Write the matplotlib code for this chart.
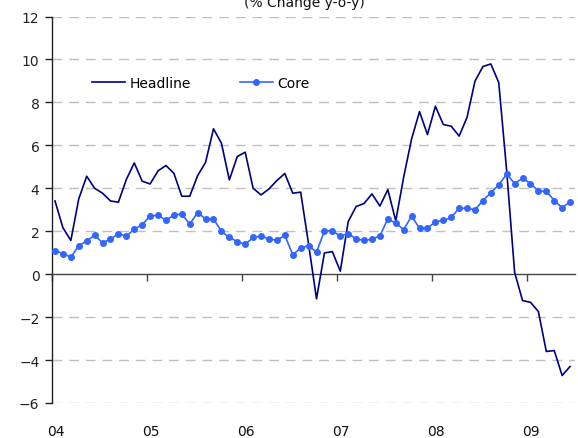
import matplotlib
matplotlib.use("Agg")
import matplotlib.pyplot as plt
import numpy as np

plt.rcParams['font.family'] = ['DejaVu Sans']

years = ["04", "05", "06", "07", "08", "09"]

headline = [3.41, 2.16, 1.57, 3.51, 4.56, 4.00, 3.77, 3.41, 3.35, 4.41, 5.18, 4.33,
            4.20, 4.81, 5.06, 4.70, 3.63, 3.63, 4.59, 5.21, 6.77, 6.10, 4.39, 5.48,
            5.68, 4.00, 3.69, 3.97, 4.36, 4.69, 3.77, 3.82, 1.40, -1.15, 0.99, 1.05,
            0.14, 2.45, 3.15, 3.29, 3.74, 3.17, 3.94, 2.48, 4.52, 6.30, 7.57, 6.50,
            7.82, 6.97, 6.89, 6.43, 7.31, 8.99, 9.67, 9.79, 8.92, 4.80, 0.09, -1.23,
            -1.31, -1.74, -3.60, -3.56, -4.72, -4.30]

core = [1.10, 0.96, 0.79, 1.33, 1.54, 1.82, 1.46, 1.64, 1.88, 1.77, 2.09, 2.31,
        2.70, 2.75, 2.51, 2.75, 2.80, 2.33, 2.87, 2.57, 2.57, 2.00, 1.71, 1.52,
        1.39, 1.71, 1.77, 1.64, 1.58, 1.81, 0.90, 1.22, 1.33, 1.02, 2.02, 2.02,
        1.77, 1.89, 1.64, 1.57, 1.63, 1.78, 2.58, 2.37, 2.08, 2.70, 2.14, 2.14,
        2.44, 2.50, 2.64, 3.07, 3.07, 3.00, 3.43, 3.79, 4.16, 4.66, 4.22, 4.47,
        4.22, 3.87, 3.87, 3.43, 3.09, 3.37]

W, H = 578, 439
fig = plt.figure(figsize=(W / 100, H / 100), dpi=100)
ax = fig.add_axes([52 / W, 1 - 404 / H, (575 - 52) / W, (404 - 17.5) / H])

months = np.arange(len(headline)) + 0.38

ax.plot(months, headline, color='#000080', lw=1.2, label='Headline', zorder=3)
ax.plot(months, core, color='#3366FF', lw=1.2, marker='o', markersize=4.0,
        label='Core', zorder=4)

ax.set_xlim(0, 66)
ax.set_ylim(-6, 12)
ax.set_yticks(np.arange(-6, 13, 2))
ax.tick_params(axis='y', direction='out', length=5, width=1, labelsize=10,
               colors='#222222', pad=4)

for v in np.arange(-6, 13, 2):
    if v != 0:
        ax.axhline(v, color='#c0c0c0', lw=1, ls=(0, (7, 5)), zorder=1)

for s in ['top', 'right']:
    ax.spines[s].set_visible(False)
ax.spines['left'].set_color('#222222')
ax.spines['left'].set_linewidth(1)
ax.spines['bottom'].set_position(('data', 0))
ax.spines['bottom'].set_color('#444444')
ax.spines['bottom'].set_linewidth(1)
ax.set_xticks(np.arange(0, 61, 12))
ax.tick_params(axis='x', direction='out', length=5, width=1, colors='#444444',
               labelbottom=False)

sec = ax.secondary_xaxis('bottom')
sec.set_xticks(np.arange(0, 61, 12) + 0.5, labels=years)
sec.tick_params(length=0, labelsize=10, colors='#111111', pad=15)
sec.spines['bottom'].set_visible(False)

ax.legend(loc='upper left', bbox_to_anchor=(0.066, 0.86), ncol=2, frameon=False,
          fontsize=10, handlelength=2.4, columnspacing=3.5, handletextpad=0.3,
          borderaxespad=0)

fig.text(304.5 / W, 1 - 7.5 / H, '(% Change y-o-y)', ha='center', va='baseline',
         fontsize=10, color='#111111')

fig.savefig('out.png', dpi=100)
